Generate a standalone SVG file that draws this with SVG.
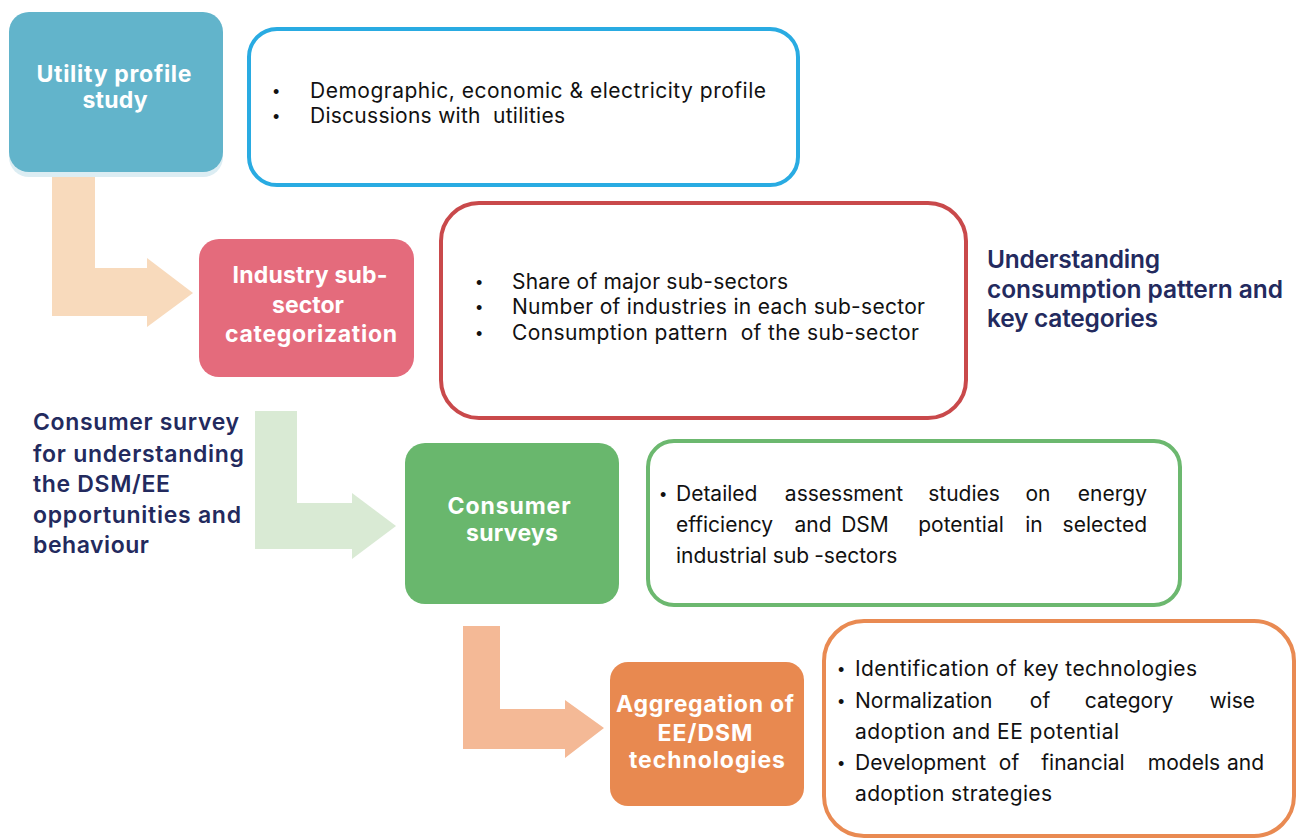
<svg xmlns="http://www.w3.org/2000/svg" width="1299" height="840" viewBox="0 0 1299 840">
  <style>
    .step { font-family: Inter, "Liberation Sans", Arial, sans-serif; font-weight: 700; font-size: 23px; fill: #ffffff; text-anchor: middle; }
    .note { font-family: Inter, "Liberation Sans", Arial, sans-serif; font-weight: 600; fill: #232a5e; }
    .body { font-family: Inter, "Liberation Sans", Arial, sans-serif; font-weight: 400; font-size: 21px; fill: #111111; white-space: pre; }
    .mid { text-anchor: middle; }
    .end { text-anchor: end; }
    .dot { font-family: "Liberation Sans", Arial, sans-serif; font-size: 18px; fill: #111111; }
    .panel { fill: #ffffff; stroke-width: 4; }
  </style>

  <rect width="1299" height="840" fill="#ffffff"/>

  <!-- connectors: elbow arrows between steps -->
  <g id="connectors">
    <polygon fill="#f8dabc" points="52,177 95,177 95,268 147,268 147,258 193,293 147,327 147,316 52,316"/>
    <polygon fill="#d9ead4" points="255,411 297,411 297,503 352,503 352,493 396,526 352,559 352,549 255,549"/>
    <polygon fill="#f4b996" points="463,626 500,626 500,709 565,709 565,700 604,728 565,758 565,749 463,749"/>
  </g>

  <!-- step 1 -->
  <g id="utility-profile">
    <rect x="9" y="17" width="214" height="160" rx="20" fill="#dcedf3"/>
    <rect x="9" y="12" width="214" height="160" rx="20" fill="#62b4cb"/>
    <text class="step" x="114" y="82" textLength="155">Utility profile</text>
    <text class="step" x="115" y="108" textLength="65">study</text>
  </g>
  <g id="utility-details">
    <rect class="panel" x="249" y="29" width="549" height="156" rx="28" stroke="#29abe2"/>
    <text class="dot" x="273" y="98">•</text>
    <text class="dot" x="273" y="123">•</text>
    <text class="body" x="310" y="98" textLength="456">Demographic, economic &amp; electricity profile</text>
    <text class="body" x="310" y="123" textLength="255">Discussions with  utilities</text>
  </g>

  <!-- step 2 -->
  <g id="industry-subsector">
    <rect x="199" y="239" width="215" height="138" rx="20" fill="#e46b7c"/>
    <text class="step" x="310" y="283" textLength="155">Industry sub-</text>
    <text class="step" x="308" y="313">sector</text>
    <text class="step" x="311" y="342" textLength="172">categorization</text>
  </g>
  <g id="industry-details">
    <rect class="panel" x="441" y="203" width="525" height="215" rx="38" stroke="#c9494b"/>
    <text class="dot" x="476" y="289">•</text>
    <text class="dot" x="476" y="314">•</text>
    <text class="dot" x="476" y="340">•</text>
    <text class="body" x="512" y="289" textLength="276">Share of major sub-sectors</text>
    <text class="body" x="512" y="314" textLength="413">Number of industries in each sub-sector</text>
    <text class="body" x="512" y="340" textLength="407">Consumption pattern  of the sub-sector</text>
  </g>
  <g id="label-consumption">
    <text class="note" font-size="24.5" x="987" y="268" textLength="173">Understanding</text>
    <text class="note" font-size="24.5" x="987" y="298" textLength="296">consumption pattern and</text>
    <text class="note" font-size="24.5" x="987" y="327" textLength="171">key categories</text>
  </g>

  <!-- step 3 -->
  <g id="label-survey">
    <text class="note" font-size="23" x="33" y="430" textLength="206">Consumer survey</text>
    <text class="note" font-size="23" x="33" y="462" textLength="211">for understanding</text>
    <text class="note" font-size="23" x="33" y="492" textLength="137">the DSM/EE</text>
    <text class="note" font-size="23" x="33" y="523" textLength="208">opportunities and</text>
    <text class="note" font-size="23" x="33" y="553" textLength="116">behaviour</text>
  </g>
  <g id="consumer-surveys">
    <rect x="405" y="443" width="214" height="161" rx="20" fill="#69b76d"/>
    <text class="step" x="509" y="514" textLength="123">Consumer</text>
    <text class="step" x="512" y="541" textLength="92">surveys</text>
  </g>
  <g id="survey-details" font-size="20.5">
    <rect class="panel" x="648" y="441" width="532" height="164" rx="26" stroke="#6cb86f"/>
    <text class="dot" x="660" y="501">•</text>
    <!-- justified paragraph: first word left, inner words centred, last word right -->
    <text class="body" font-size="20.5" x="676" y="501">Detailed</text>
    <text class="body mid" font-size="20.5" x="844" y="501">assessment</text>
    <text class="body mid" font-size="20.5" x="964" y="501">studies</text>
    <text class="body mid" font-size="20.5" x="1038" y="501">on</text>
    <text class="body end" font-size="20.5" x="1147" y="501">energy</text>
    <text class="body" font-size="20.5" x="676" y="532">efficiency</text>
    <text class="body mid" font-size="20.5" x="813" y="532">and</text>
    <text class="body mid" font-size="20.5" x="865" y="532">DSM</text>
    <text class="body mid" font-size="20.5" x="961" y="532">potential</text>
    <text class="body mid" font-size="20.5" x="1034" y="532">in</text>
    <text class="body end" font-size="20.5" x="1147" y="532">selected</text>
    <text class="body" font-size="20.5" y="563"><tspan x="676">industrial sub</tspan><tspan dx="5">-sectors</tspan></text>
  </g>

  <!-- step 4 -->
  <g id="aggregation">
    <rect x="610" y="662" width="194" height="144" rx="18" fill="#e88950"/>
    <text class="step" x="705" y="712" textLength="178">Aggregation of</text>
    <text class="step" x="705" y="741" textLength="95">EE/DSM</text>
    <text class="step" x="707" y="768" textLength="156">technologies</text>
  </g>
  <g id="aggregation-details">
    <rect class="panel" x="824" y="621" width="470" height="215" rx="40" stroke="#e98a52"/>
    <text class="dot" x="838" y="676">•</text>
    <text class="dot" x="838" y="708">•</text>
    <text class="dot" x="838" y="770">•</text>
    <text class="body" x="855" y="676" textLength="342">Identification of key technologies</text>
    <text class="body" x="855" y="708">Normalization</text>
    <text class="body mid" x="1040" y="708">of</text>
    <text class="body mid" x="1129" y="708">category</text>
    <text class="body end" x="1255" y="708">wise</text>
    <text class="body" x="855" y="739" textLength="264">adoption and EE potential</text>
    <text class="body" x="855" y="770">Development</text>
    <text class="body mid" x="1009" y="770">of</text>
    <text class="body mid" x="1083" y="770">financial</text>
    <text class="body mid" x="1184" y="770">models</text>
    <text class="body end" x="1264" y="770">and</text>
    <text class="body" x="855" y="801" textLength="197">adoption strategies</text>
  </g>
</svg>
